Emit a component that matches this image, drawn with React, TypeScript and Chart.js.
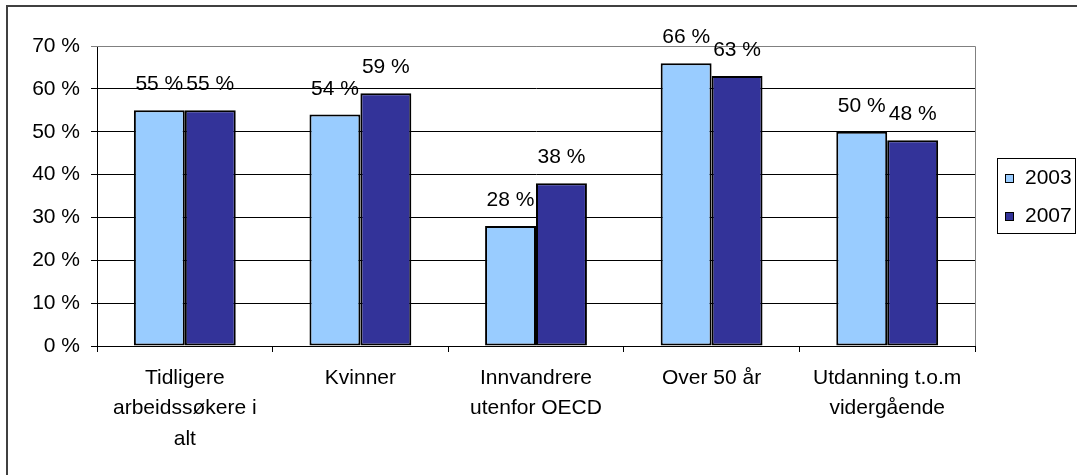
import React, { useEffect, useRef } from "react";
import { Chart, registerables } from "chart.js";

Chart.register(...registerables);

const categories: string[][] = [
  ["Tidligere", "arbeidssøkere i", "alt"],
  ["Kvinner"],
  ["Innvandrere", "utenfor OECD"],
  ["Over 50 år"],
  ["Utdanning t.o.m", "vidergående"],
];
const seriesNames = ["2003", "2007"];
const values2003 = [55, 54, 28, 66, 50];
const values2007 = [55, 59, 38, 63, 48];
const yTicks = [0, 10, 20, 30, 40, 50, 60, 70];

const FONT = "'Liberation Sans', Arial, sans-serif";
const FS = 21;

const decorPlugin = {
  id: "decor",
  afterDatasetsDraw(chart: any) {
    const ctx = chart.ctx;
    const area = chart.chartArea;
    ctx.save();
    // plot area right & top border (gray)
    ctx.strokeStyle = "#808080";
    ctx.lineWidth = 1;
    ctx.beginPath();
    ctx.moveTo(area.left, area.top + 0.5);
    ctx.lineTo(area.right + 0.5, area.top + 0.5);
    ctx.lineTo(area.right + 0.5, area.bottom);
    ctx.stroke();
    // data labels
    ctx.fillStyle = "#000";
    ctx.font = `${FS}px ${FONT}`;
    ctx.textAlign = "center";
    ctx.textBaseline = "alphabetic";
    chart.data.datasets.forEach((ds: any, di: number) => {
      const meta = chart.getDatasetMeta(di);
      meta.data.forEach((bar: any, i: number) => {
        ctx.fillText(`${ds.data[i]} %`, bar.x, bar.y - 20);
      });
    });
    ctx.restore();
  },
  afterDraw(chart: any) {
    const ctx = chart.ctx;
    ctx.save();
    // outer frame
    ctx.fillStyle = "#404040";
    ctx.fillRect(6, 5, 1200, 2);
    ctx.fillRect(6, 5, 2, 600);
    // legend box
    const bx = 997, by = 158, bw = 78, bh = 75;
    ctx.strokeStyle = "#000";
    ctx.lineWidth = 1;
    ctx.strokeRect(bx + 0.5, by + 0.5, bw, bh);
    ctx.font = `${FS}px ${FONT}`;
    ctx.textAlign = "left";
    ctx.textBaseline = "middle";
    chart.data.datasets.forEach((ds: any, di: number) => {
      const cy = 178 + di * 38;
      ctx.fillStyle = ds.backgroundColor;
      ctx.fillRect(1005, cy - 4, 9, 9);
      ctx.strokeStyle = "#000";
      ctx.strokeRect(1005.5, cy - 3.5, 8, 8);
      ctx.fillStyle = "#000";
      ctx.fillText(ds.label, 1025, cy);
    });
    ctx.restore();
  },
};

export default function App() {
  const ref = useRef<HTMLCanvasElement>(null);
  useEffect(() => {
    if (!ref.current) return;
    const chart = new Chart(ref.current, {
      type: "bar",
      data: {
        labels: categories,
        datasets: [
          {
            label: seriesNames[0],
            data: values2003,
            backgroundColor: "#99CCFF",
            borderColor: "#000",
            borderWidth: 2,
            borderSkipped: false,
          },
          {
            label: seriesNames[1],
            data: values2007,
            backgroundColor: "#333399",
            borderColor: "#000",
            borderWidth: 2,
            borderSkipped: false,
          },
        ],
      },
      options: {
        responsive: false,
        animation: false,
        layout: { padding: { left: 0, top: 46, right: 102, bottom: 0 } },
        plugins: { legend: { display: false }, tooltip: { enabled: false } },
        datasets: { bar: { categoryPercentage: 0.58, barPercentage: 1.0 } },
        scales: {
          x: {
            afterFit: (s: any) => {
              s.height = 129;
            },
            grid: {
              drawOnChartArea: false,
              drawTicks: true,
              tickLength: 6,
              offset: true,
              color: "#000",
            },
            border: { color: "#000", width: 1 },
            ticks: {
              color: "#000",
              font: { family: FONT, size: FS, lineHeight: 1.45 },
              padding: 11,
              maxRotation: 0,
              autoSkip: false,
            },
          },
          y: {
            min: 0,
            max: 70,
            afterFit: (s: any) => {
              s.width = 97;
            },
            afterBuildTicks: (s: any) => {
              s.ticks = yTicks.map((v) => ({ value: v }));
            },
            grid: {
              color: (c: any) => (c.tick && c.tick.value === 70 ? "#808080" : "#000"),
              tickLength: 6,
              drawTicks: true,
            },
            border: { color: "#000", width: 1 },
            ticks: {
              color: "#000",
              font: { family: FONT, size: FS },
              padding: 11,
              callback: (v: any) => `${v} %`,
            },
          },
        },
      },
      plugins: [decorPlugin],
    });
    return () => chart.destroy();
  }, []);
  return (
    <div style={{ position: "fixed", left: 0, top: 0, width: 1077, height: 475, background: "#fff" }}>
      <canvas ref={ref} width={1077} height={475} style={{ display: "block" }} />
    </div>
  );
}
